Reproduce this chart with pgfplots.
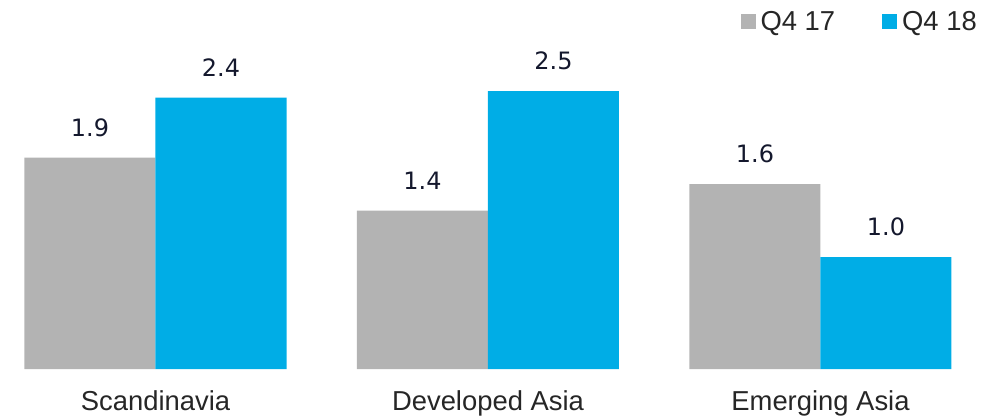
\documentclass[border=0pt]{standalone}
\usepackage{pgfplots}
\pgfplotsset{compat=1.18}
\usepackage{fontspec}
\setmainfont{Liberation Sans}
\newfontfamily\valfont{DejaVu Sans}
\definecolor{barg}{RGB}{179,179,179}
\definecolor{barb}{RGB}{0,173,230}
\definecolor{valc}{RGB}{20,24,45}
\definecolor{txtc}{RGB}{38,38,38}
\begin{document}
\begin{tikzpicture}
\useasboundingbox (0,0) rectangle (1001bp,418bp);
\begin{axis}[
  at={(-10.75bp,49bp)}, anchor=south west,
  scale only axis, width=997.5bp, height=334.5bp,
  xmin=-0.5, xmax=2.5, ymin=0, ymax=3,
  enlargelimits=false, clip=false,
  axis line style={draw=none},
  major tick length=0pt,
  ytick=\empty,
  xtick={0,1,2},
  xticklabels={Scandinavia, Developed Asia, Emerging Asia},
  xticklabel style={font=\fontsize{27.5}{33}\selectfont, text=txtc, anchor=base, inner sep=0pt, yshift=-41bp},
  ybar=0pt, bar width=131bp,
  nodes near coords, point meta=explicit symbolic,
  every node near coord/.append style={font=\valfont\fontsize{24}{29}\selectfont, text=valc, anchor=south, inner sep=0pt, yshift=21bp},
  legend image code/.code={\fill[#1] (0bp,-7.5bp) rectangle (15bp,7.5bp);},
  legend columns=2,
  legend style={draw=none, fill=none, inner sep=0pt, at={(0.9902,1.0703)}, anchor=north east,
    font=\fontsize{27.5}{33}\selectfont, text=txtc,
    nodes={inner sep=0pt},
    /tikz/every odd column/.append style={column sep=5bp},
    /tikz/every even column/.append style={column sep=47bp}},
]
\addplot[fill=barg, draw=none] coordinates {(0,1.895)[1.9] (1,1.42)[1.4] (2,1.657)[1.6]};
\addplot[fill=barb, draw=none] coordinates {(0,2.433)[2.4] (1,2.493)[2.5] (2,1.004)[1.0]};
\legend{Q4 17, Q4 18}
\end{axis}
\end{tikzpicture}
\end{document}
